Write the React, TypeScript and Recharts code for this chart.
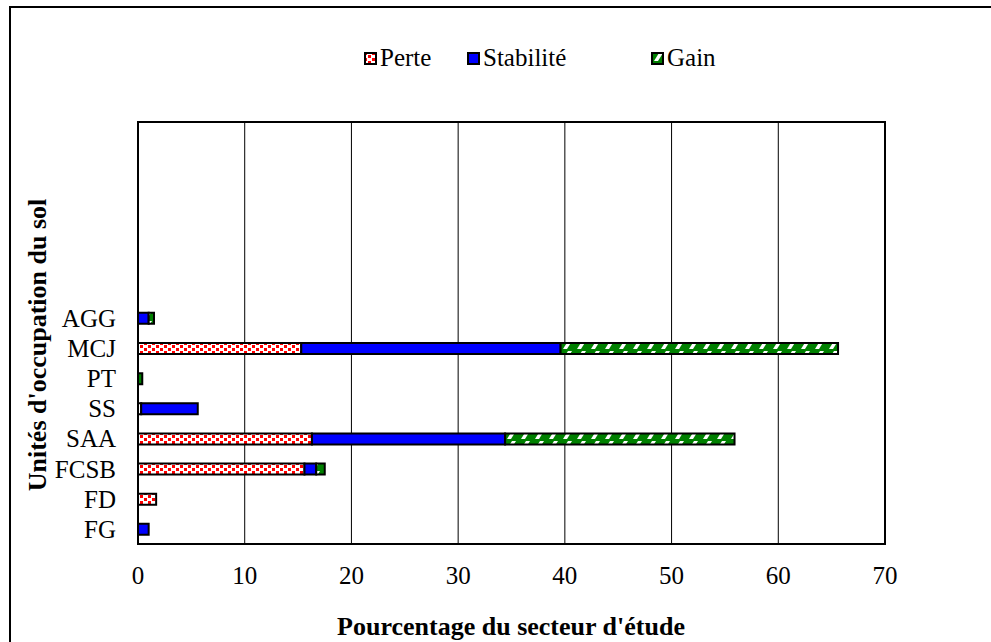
import React from 'react'
import {
  BarChart, Bar, XAxis, YAxis, CartesianGrid, Legend, Label, ReferenceArea,
} from 'recharts'

// categories listed top to bottom (empty rows keep the upper part of the plot free)
const categories = ['', '', '', '', '', '', 'AGG', 'MCJ', 'PT', 'SS', 'SAA', 'FCSB', 'FD', 'FG']
const perte = [0, 0, 0, 0, 0, 0, 0, 15.3, 0, 0.3, 16.3, 15.6, 1.7, 0]
const stabilite = [0, 0, 0, 0, 0, 0, 1.0, 24.3, 0, 5.3, 18.1, 1.1, 0, 1.0]
const gain = [0, 0, 0, 0, 0, 0, 0.5, 26.0, 0.4, 0, 21.5, 0.8, 0, 0]
const xTicks = [0, 10, 20, 30, 40, 50, 60, 70]

const series = [
  { key: 'perte', name: 'Perte', fill: 'url(#pPerte)' },
  { key: 'stabilite', name: 'Stabilité', fill: '#0000ff' },
  { key: 'gain', name: 'Gain', fill: 'url(#pGain)' },
]

const data = categories.map((name, i) => ({
  name,
  perte: perte[i],
  stabilite: stabilite[i],
  gain: gain[i],
}))

const font = "'Liberation Serif', 'Times New Roman', serif"

// legend item left edges (marker) in px
const legendLeft = [364, 467, 651]

function LegendBox() {
  return (
    <div style={{ position: 'relative', width: 991, height: 30 }}>
      {series.map((s, i) => (
        <div key={s.key} style={{
          position: 'absolute', left: legendLeft[i], top: 0, height: 30,
          display: 'flex', alignItems: 'center',
          fontFamily: font, fontSize: 25, color: '#000', whiteSpace: 'nowrap',
        }}>
          <svg width={13} height={13} style={{ marginRight: 3, display: 'block' }}>
            <rect x={1} y={1} width={11} height={11} fill={s.fill} stroke="#000" strokeWidth={2} />
          </svg>
          <span style={{ fontFamily: font }}>{s.name}</span>
        </div>
      ))}
    </div>
  )
}

export default function App() {
  return (
    <div style={{
      position: 'absolute', left: 0, top: 0, width: 991, height: 642,
      overflow: 'hidden', background: '#fff',
    }}>
      <div style={{
        position: 'absolute', left: 9, top: 6, width: 1100, height: 800,
        border: '2px solid #000',
      }} />
      <div style={{ position: 'absolute', left: 0, top: 0 }}>
        <BarChart
          width={991} height={642} data={data} layout="vertical"
          margin={{ top: 92, right: 106, left: 0, bottom: 48 }}
          barSize={11}
        >
          <defs>
            <pattern id="pPerte" patternUnits="userSpaceOnUse" width={8} height={6}>
              <rect width={8} height={6} fill="#fff" />
              <rect x={0} y={0} width={3} height={3} fill="#ff0000" />
              <rect x={4} y={3} width={3} height={3} fill="#ff0000" />
            </pattern>
            <pattern id="pGain" patternUnits="userSpaceOnUse" width={14} height={10}>
              <rect width={14} height={10} fill="#008000" />
              <polygon points="3,9 7,9 12,1 8,1" fill="#fff" />
            </pattern>
          </defs>
          <CartesianGrid horizontal={false} stroke="#000" strokeWidth={1} />
          <XAxis
            type="number" domain={[0, 70]} ticks={xTicks} height={50}
            tickLine={false} tickSize={0} tickMargin={22}
            axisLine={{ stroke: '#000', strokeWidth: 2 }}
            tick={{ fill: '#000', fontSize: 25, fontFamily: font }}
          >
            <Label content={() => (
              <text x={511} y={626} textAnchor="middle" dominantBaseline="central"
                style={{ fontFamily: font, fontSize: 26, fontWeight: 700, fill: '#000' }}>
                Pourcentage du secteur d'étude
              </text>
            )} />
          </XAxis>
          <YAxis
            type="category" dataKey="name" width={138} interval={0}
            tickLine={false} tickSize={0} tickMargin={22}
            axisLine={{ stroke: '#000', strokeWidth: 2 }}
            tick={{ fill: '#000', fontSize: 25, fontFamily: font }}
          >
            <Label content={() => (
              <text x={37} y={345} transform="rotate(-90 37 345)" textAnchor="middle"
                dominantBaseline="central"
                style={{ fontFamily: font, fontSize: 26, fontWeight: 700, fill: '#000' }}>
                Unités d'occupation du sol
              </text>
            )} />
          </YAxis>
          <Legend
            verticalAlign="top"
            content={<LegendBox />}
            wrapperStyle={{ position: 'absolute', top: 43, left: 0, width: 991 }}
          />
          {series.map(s => (
            <Bar
              key={s.key} dataKey={s.key} name={s.name} stackId="a"
              fill={s.fill} stroke="#000" strokeWidth={2}
              isAnimationActive={false}
            />
          ))}
          <ReferenceArea x1={0} x2={70} fill="none" fillOpacity={0} stroke="#000" strokeWidth={2} />
        </BarChart>
      </div>
    </div>
  )
}
